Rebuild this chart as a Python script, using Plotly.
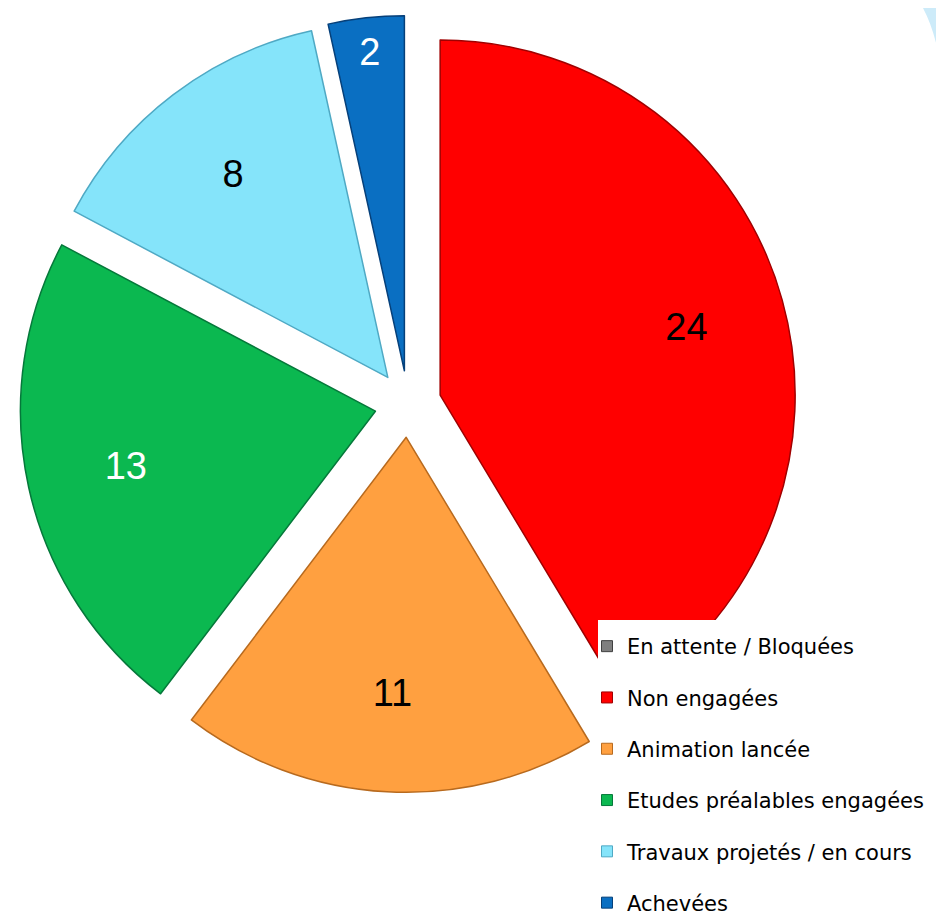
import plotly.graph_objects as go

# ---- data ----
categories = ["En attente / Bloquées", "Non engagées", "Animation lancée",
              "Etudes préalables engagées", "Travaux projetés / en cours", "Achevées"]
values = [0, 24, 11, 13, 8, 2]

# ---- style ----
slice_colors = ["#7F7F7F", "#FF0000", "#FFA040", "#0BB850", "#85E4FA", "#0A6FC2"]
edge_colors = ["#404040", "#A00000", "#B86A1E", "#05783A", "#4FA9C4", "#06407A"]
edge_widths = [0, 1.5, 1.5, 1.5, 1.5, 1.5]
text_colors = ["black", "black", "black", "white", "black", "white"]
W, H = 944, 917
OFF = 8  # page offset of the figure (body margin)
PULL = 0.094


def px(x):
    return (x - OFF) / W


def py(y):
    return 1 - (y - OFF) / H


# pie centre ~ (408, 404), radius ~355 px in the reference picture
R = 355
HALF = R * (1 + PULL)
DOMAIN = dict(x=[px(408 - HALF), px(408 + HALF)], y=[py(404 + HALF), py(404 - HALF)])

fig = go.Figure()

# the slices
fig.add_trace(go.Pie(
    labels=categories, values=values,
    sort=False, direction="clockwise", rotation=0,
    pull=[PULL] * len(values),
    marker=dict(colors=slice_colors, line=dict(color=edge_colors, width=edge_widths)),
    textinfo="none",
    domain=DOMAIN,
    showlegend=False,
    hoverinfo="label+value",
))

# value labels: same pie geometry, transparent, with a hole so that plotly
# places the labels further out along each slice bisector
fig.add_trace(go.Pie(
    labels=categories, values=values,
    sort=False, direction="clockwise", rotation=0,
    pull=[PULL] * len(values),
    hole=0.44,
    marker=dict(colors=["rgba(0,0,0,0)"] * len(values), line=dict(width=0)),
    textinfo="value",
    textposition="inside",
    insidetextorientation="horizontal",
    insidetextfont=dict(family="Liberation Sans, Arial, sans-serif", size=38, color=text_colors),
    domain=DOMAIN,
    showlegend=False,
    hoverinfo="skip",
))

# legend entries (one group per category to reproduce the wide spacing)
for i, (cat, col) in enumerate(zip(categories, slice_colors)):
    fig.add_trace(go.Scatter(
        x=[None], y=[None], mode="markers", name=cat,
        legendgroup="g%d" % i,
        marker=dict(symbol="square", size=11, color=col,
                    line=dict(color=edge_colors[i], width=1)),
        hoverinfo="skip",
    ))

shapes = [
    # white panel behind the legend
    dict(type="rect", xref="paper", yref="paper",
         x0=px(598), x1=1, y0=0, y1=py(620),
         fillcolor="white", line=dict(width=0), layer="above"),
    # light blue decoration, top-right corner
    dict(type="path", xref="paper", yref="paper",
         path="M %f,%f Q %f,%f %f,%f L %f,%f L %f,%f Z" % (
             px(923), 1, px(940), py(40), px(944), py(95),
             1, py(95), 1, 1),
         fillcolor="#CDEBF9", line=dict(width=0), layer="above"),
]

fig.update_layout(
    width=W, height=H,
    margin=dict(l=0, r=0, t=0, b=0, autoexpand=False),
    paper_bgcolor="white", plot_bgcolor="white",
    xaxis=dict(visible=False), yaxis=dict(visible=False),
    shapes=shapes,
    legend=dict(
        x=579 / W, y=1 - 618 / H, xanchor="left", yanchor="top",
        bgcolor="rgba(0,0,0,0)", borderwidth=0,
        font=dict(family="Century Gothic, DejaVu Sans, sans-serif", size=21, color="black"),
        tracegroupgap=21, traceorder="grouped",
    ),
)

fig.write_html("out.html")
